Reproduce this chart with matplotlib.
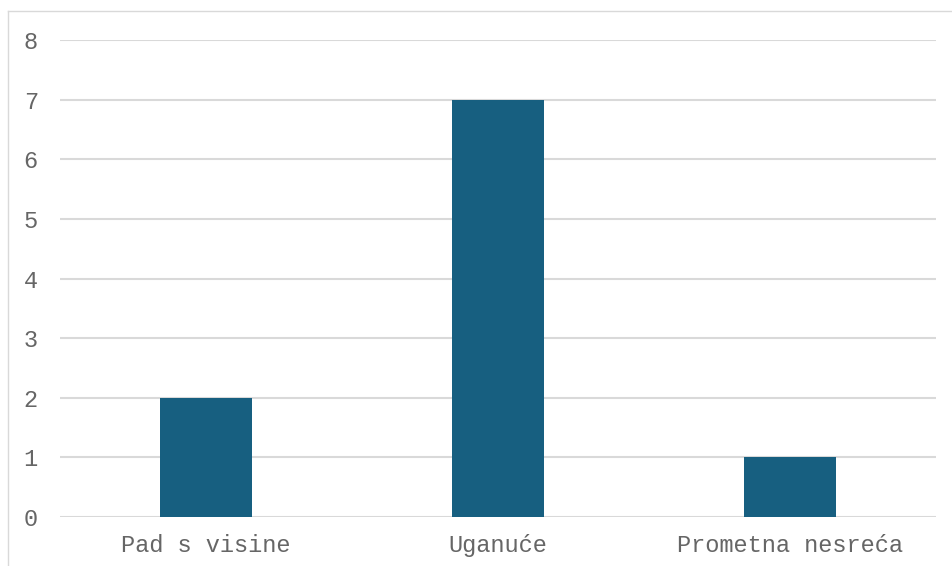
import matplotlib.pyplot as plt
from matplotlib.lines import Line2D

categories = ['Pad s visine', 'Uganuće', 'Prometna nesreća']
values = [2, 7, 1]
yticks = [0, 1, 2, 3, 4, 5, 6, 7, 8]

W, H = 952, 566
fig = plt.figure(figsize=(W / 100, H / 100), dpi=100)
ax = fig.add_axes([60 / W, 1 - 517 / H, 876 / W, 477 / H])

x = range(len(categories))
ax.bar(x, values, width=0.315, color='#175F80', zorder=3)

ax.set_xlim(-0.5, 2.5)
ax.set_ylim(0, 8)
ax.set_yticks(yticks)
ax.set_xticks(list(x))
ax.set_xticklabels(categories)
ax.yaxis.grid(True, color='#d9d9d9', linewidth=1.5, zorder=0)
ax.tick_params(length=0, labelsize=17, labelcolor='#666666')
ax.tick_params(axis='y', pad=16)
ax.tick_params(axis='x', pad=12)
for lab in ax.get_xticklabels() + ax.get_yticklabels():
    lab.set_family('Liberation Mono')
    lab.set_fontweight('light')
for s in ax.spines.values():
    s.set_visible(False)

# outer chart border (cropped at right and bottom)
fig.add_artist(Line2D([8 / W, 1], [1 - 11 / H, 1 - 11 / H], transform=fig.transFigure,
                      color='#d9d9d9', linewidth=1))
fig.add_artist(Line2D([8 / W, 8 / W], [0, 1 - 11 / H], transform=fig.transFigure,
                      color='#d9d9d9', linewidth=1))

fig.savefig('out.png', dpi=100)
